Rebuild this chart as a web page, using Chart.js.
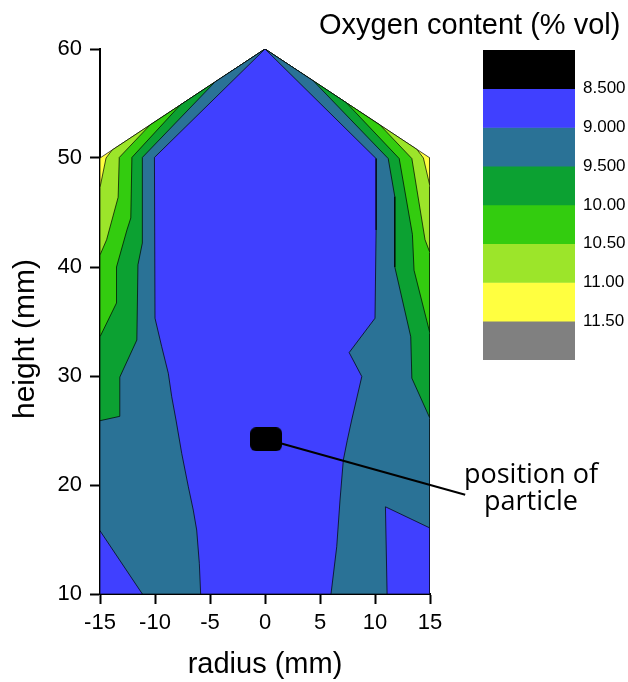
<!DOCTYPE html>
<html>
<head>
<meta charset="utf-8">
<script src="https://cdn.jsdelivr.net/npm/chart.js@4"></script>
<style>
  body { margin: 0; background: #fff; }
  #wrap { position: relative; width: 628px; height: 682px; overflow: hidden; }
  #plot { position: absolute; left: 0; top: 0; }
  #bar { position: absolute; left: 483px; top: 50px; }
  .txt { position: absolute; color: #000; white-space: nowrap; }
  #title { left: 319px; top: 10px; font: 29px/29px "Liberation Sans", Arial, sans-serif; }
  #ytitle { left: -76px; top: 321px; width: 200px; height: 36px; text-align: center;
            font: 30px/36px "Liberation Sans", Arial, sans-serif; transform: rotate(-90deg); }
  #note { left: 431px; top: 459px; width: 200px; text-align: center; font: 27px/27px "Open Sans", sans-serif; }
</style>
</head>
<body>
<div id="wrap">
  <canvas id="plot" width="628" height="682"></canvas>
  <canvas id="bar" width="145" height="310"></canvas>
  <div id="title" class="txt">Oxygen content (% vol)</div>
  <div id="ytitle" class="txt">height (mm)</div>
  <div id="note" class="txt">position of<br>particle</div>
</div>
<script>
// contour regions as [radius, height] outlines (mm)
const domain = [[-15,10],[-15,50],[0,60],[15,50],[15,10]];
const below110 = [[-15,10],[-15,47.3],[-14.45,50.0],[-13.9,50.73],[0,60],[13.8,50.8],[14.4,50.0],[15,47.4],[15,10]];
const below105 = [[-15,10],[-15,41.1],[-14.4,42.5],[-13.35,46.4],[-13.25,50.05],[-10.45,53.03],[0,60],
  [10.45,53.03],[13.35,49.95],[14.55,42.5],[15,41.3],[15,10]];
const below100 = [[-15,10],[-15,33.6],[-13.5,36.7],[-13.5,40.0],[-12.55,43.4],[-12.2,44.5],[-12.1,50.05],[-7.7,54.87],[0,60],
  [7.4,55.07],[12.2,49.95],[13.4,43.0],[13.55,39.7],[15,33.9],[15,10]];
const below95 = [[-15,10],[-15,25.9],[-13.2,26.3],[-13.2,29.9],[-11.65,33.3],[-11.55,40.2],[-11.15,42.2],[-11.15,50.05],[-4.55,56.97],[0,60],
  [4.4,57.07],[11.2,49.95],[11.8,46.45],[11.8,40.0],[13.25,33.6],[13.35,29.8],[15,26.1],[15,10]];
const below90 = [[-5.85,10],[-5.97,12.8],[-6.21,15.87],[-6.52,17.7],[-6.97,19.84],[-7.57,22.9],[-8.09,25.96],[-8.48,28.1],[-8.79,30.25],
  [-9.39,32.69],[-10.0,35.3],[-10.05,50.05],[0,60],[10.1,49.95],[10.1,43.4],[10.0,35.3],[7.65,32.15],[8.8,29.95],[7.88,25.96],
  [7.48,24.1],[7.12,22.29],[6.82,18.62],[6.52,14.34],[6.0,10]];
const below90Corner = [[-15,10],[-15,15.8],[-11.15,10]];
const below90Notch = [[11.1,10],[10.95,18.0],[15,16.05],[15,10]];

// particle and its label pointer
const particleX = [0.1];
const particleY = [24.2];
const leaderX = [0.1, 18.2];
const leaderY = [24.2, 19.1];

// colour bar
const bandBounds = [8.0, 8.5, 9.0, 9.5, 10.0, 10.5, 11.0, 11.5, 12.0];
const bandLabels = ['8.500', '9.000', '9.500', '10.00', '10.50', '11.00', '11.50'];
const bandColors = ['#000000', '#4040ff', '#2a7296', '#0ca132', '#33cc0f', '#9ce52a', '#ffff40', '#808080'];

Chart.defaults.font.family = '"Liberation Sans", Arial, sans-serif';
Chart.defaults.color = '#000';

function region(points, color, order) {
  const pts = points.map(p => ({ x: p[0], y: p[1] }));
  pts.push({ x: points[0][0], y: points[0][1] });
  return {
    data: pts, showLine: true, fill: 'shape', backgroundColor: color,
    borderColor: 'rgba(0,0,0,0.7)', borderWidth: 1, pointRadius: 0, order: order
  };
}

// rounded black block for the particle
const block = document.createElement('canvas');
block.width = 32; block.height = 24;
const bc = block.getContext('2d');
bc.fillStyle = '#000';
bc.beginPath(); bc.roundRect(0, 0, 32, 24, 6); bc.fill();

new Chart(document.getElementById('plot'), {
  type: 'scatter',
  data: {
    datasets: [
      region(domain, bandColors[6], 9),
      region(below110, bandColors[5], 8),
      region(below105, bandColors[4], 7),
      region(below100, bandColors[3], 6),
      region(below95, bandColors[2], 5),
      region(below90, bandColors[1], 4),
      region(below90Corner, bandColors[1], 4),
      region(below90Notch, bandColors[1], 4),
      {
        data: leaderX.map((x, i) => ({ x: x, y: leaderY[i] })),
        showLine: true, borderColor: '#000', borderWidth: 2, pointRadius: 0, clip: false, order: 2
      },
      {
        data: particleX.map((x, i) => ({ x: x, y: particleY[i] })),
        pointStyle: block, order: 1
      }
    ]
  },
  options: {
    responsive: false,
    animation: false,
    events: [],
    layout: { padding: { left: 0, top: 49, right: 198, bottom: 0 } },
    plugins: { legend: { display: false }, tooltip: { enabled: false } },
    scales: {
      x: {
        type: 'linear', min: -15, max: 15, z: 1,
        ticks: { stepSize: 5, padding: 6, font: { size: 22 } },
        grid: { drawOnChartArea: false, tickLength: 10, tickWidth: 2, color: '#000' },
        border: { color: '#000', width: 2 },
        title: { display: true, text: 'radius (mm)', font: { size: 29 }, padding: { top: 4, bottom: 0 } },
        afterFit: s => { s.height = 88; }
      },
      y: {
        type: 'linear', min: 10, max: 60, z: 1,
        ticks: { stepSize: 10, padding: 8, font: { size: 22 } },
        grid: { drawOnChartArea: false, tickLength: 10, tickWidth: 2, color: '#000' },
        border: { color: '#000', width: 2 },
        afterFit: s => { s.width = 100; }
      }
    }
  }
});

new Chart(document.getElementById('bar'), {
  type: 'bar',
  data: {
    labels: [''],
    datasets: bandColors.map((col, i) => ({
      data: [[bandBounds[i], bandBounds[i + 1]]],
      backgroundColor: col, borderWidth: 0,
      barPercentage: 1, categoryPercentage: 1, grouped: false
    }))
  },
  options: {
    responsive: false,
    animation: false,
    events: [],
    layout: { padding: 0 },
    plugins: { legend: { display: false }, tooltip: { enabled: false } },
    scales: {
      x: { display: false },
      y: {
        position: 'right', reverse: true, min: 8, max: 12,
        grid: { display: false, drawTicks: false },
        border: { display: false },
        ticks: { padding: 8, font: { size: 17 }, callback: (v, i) => bandLabels[i] },
        afterBuildTicks: s => { s.ticks = bandBounds.slice(1, -1).map(v => ({ value: v })); },
        afterFit: s => { s.width = 53; s.paddingTop = 0; s.paddingBottom = 0; }
      }
    }
  }
});
</script>
</body>
</html>
